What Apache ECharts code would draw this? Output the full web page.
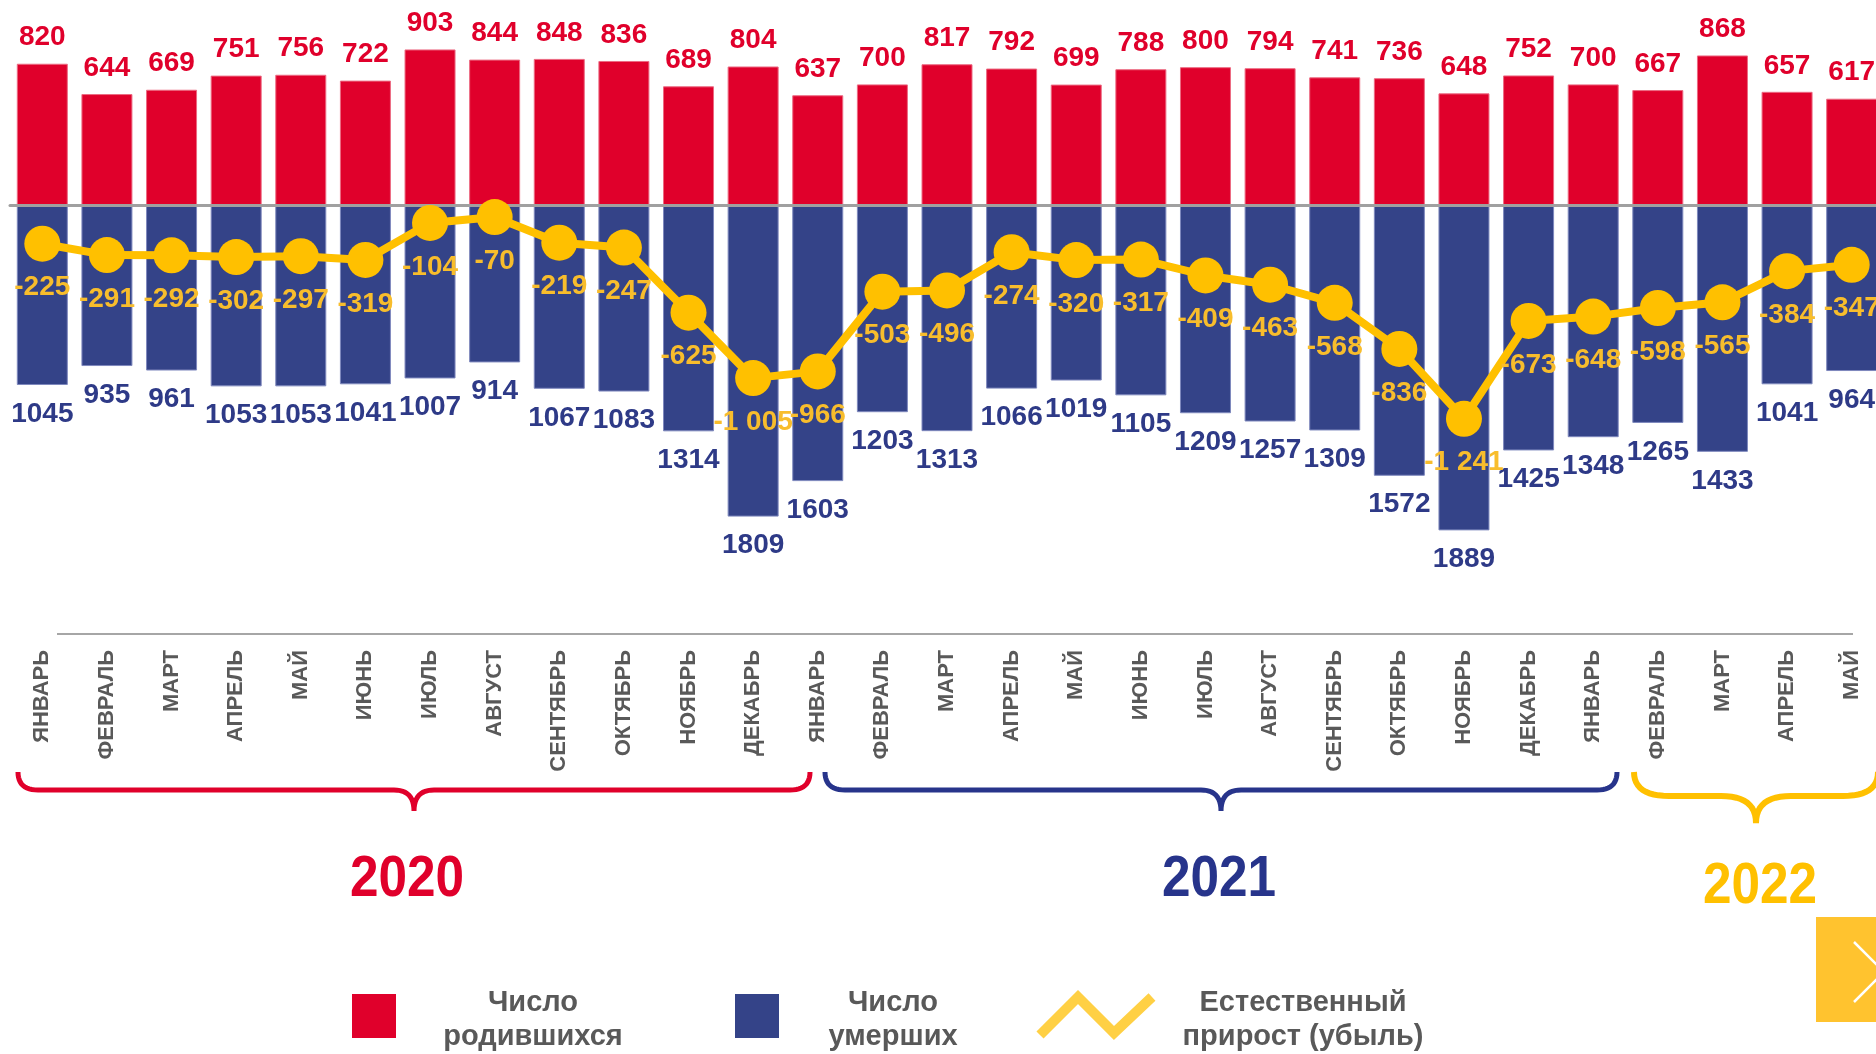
<!DOCTYPE html>
<html>
<head>
<meta charset="utf-8">
<script src="https://cdn.jsdelivr.net/npm/echarts@6/dist/echarts.min.js"></script>
<style>
    html, body { margin: 0; padding: 0; background: #fff; }
    #chart { width: 1876px; height: 1054px; }
</style>
</head>
<body>
<div id="chart"></div>
<script>
    var monthNames = ['ЯНВАРЬ', 'ФЕВРАЛЬ', 'МАРТ', 'АПРЕЛЬ', 'МАЙ', 'ИЮНЬ', 'ИЮЛЬ', 'АВГУСТ', 'СЕНТЯБРЬ', 'ОКТЯБРЬ', 'НОЯБРЬ', 'ДЕКАБРЬ']
    // 2020 - 2021 полностью, 2022 январь-май
    var categories = monthNames.concat(monthNames).concat(monthNames.slice(0, 5))

    var births = [820, 644, 669, 751, 756, 722, 903, 844, 848, 836, 689, 804,
        637, 700, 817, 792, 699, 788, 800, 794, 741, 736, 648, 752,
        700, 667, 868, 657, 617]
    var deaths = [1045, 935, 961, 1053, 1053, 1041, 1007, 914, 1067, 1083, 1314, 1809,
        1603, 1203, 1313, 1066, 1019, 1105, 1209, 1257, 1309, 1572, 1889, 1425,
        1348, 1265, 1433, 1041, 964]
    var naturalGrowth = [-225, -291, -292, -302, -297, -319, -104, -70, -219, -247, -625, -1005,
        -966, -503, -496, -274, -320, -317, -409, -463, -568, -836, -1241, -673,
        -648, -598, -565, -384, -347]

    var years = ['2020', '2021', '2022']

    var RED = '#E0002B'
    var BLUE = '#344388'
    var YELLOW = '#FFC000'
    var GREY_TEXT = '#595959'
    var FONT = '"Liberation Sans", Arial, sans-serif'

    function withSpaces(v) {
        return String(v).replace(/\B(?=(\d{3})+(?!\d))/g, ' ')
    }

    // фигурная скобка из ломаной
    function bracePoints(x0, x1, yTop, yMid, yTip, r) {
        var pts = []
        var xc = (x0 + x1) / 2
        function quad(p0, c, p1) {
            for (var i = 0; i <= 12; i++) {
                var t = i / 12
                var a = (1 - t) * (1 - t), b = 2 * (1 - t) * t, d = t * t
                pts.push([a * p0[0] + b * c[0] + d * p1[0], a * p0[1] + b * c[1] + d * p1[1]])
            }
        }
        quad([x0, yTop], [x0, yMid], [x0 + r, yMid])
        quad([xc - r, yMid], [xc, yMid], [xc, yTip])
        quad([xc, yTip], [xc, yMid], [xc + r, yMid])
        quad([x1 - r, yMid], [x1, yMid], [x1, yTop])
        return pts
    }

    var myChart = echarts.init(document.getElementById('chart'))

    var option = {
        animation: false,
        backgroundColor: '#fff',
        grid: {
            left: 10,
            width: 1874,
            top: 0,
            height: 549.5,
            outerBoundsMode: 'none'
        },
        xAxis: [{
            type: 'category',
            data: categories,
            axisLine: {
                show: true,
                onZero: true,
                lineStyle: { color: '#A0A0A0', width: 3 }
            },
            axisTick: { show: false },
            axisLabel: { show: false },
            z: 3
        }, {
            type: 'category',
            data: categories,
            position: 'bottom',
            offset: 84.5,
            axisLine: { show: false, onZero: false },
            axisTick: { show: false },
            axisLabel: {
                rotate: 90,
                margin: 16,
                interval: 0,
                color: GREY_TEXT,
                fontSize: 22,
                fontWeight: 'bold',
                fontFamily: FONT
            }
        }],
        yAxis: {
            type: 'value',
            min: -2000,
            max: 1190,
            show: false,
            splitLine: { show: false }
        },
        series: [{
            name: 'Число родившихся',
            type: 'bar',
            data: births,
            barWidth: 51,
            barGap: '-100%',
            itemStyle: {
                color: RED,
                borderColor: '#EC6A82',
                borderWidth: 1
            },
            label: {
                show: true,
                position: 'top',
                distance: 12,
                color: RED,
                fontSize: 28,
                fontWeight: 'bold',
                fontFamily: FONT
            }
        }, {
            name: 'Число умерших',
            type: 'bar',
            data: deaths.map(function(v) { return -v }),
            barWidth: 51,
            barGap: '-100%',
            itemStyle: {
                color: BLUE,
                borderColor: '#7E88BD',
                borderWidth: 1
            },
            label: {
                show: true,
                position: 'bottom',
                distance: 15,
                color: '#2E3A87',
                fontSize: 28,
                fontWeight: 'bold',
                fontFamily: FONT,
                formatter: function(p) { return String(-p.value) }
            }
        }, {
            name: 'Естественный прирост (убыль)',
            type: 'line',
            data: naturalGrowth,
            z: 5,
            symbol: 'circle',
            symbolSize: 36,
            lineStyle: { color: YELLOW, width: 8 },
            itemStyle: { color: YELLOW },
            label: {
                show: true,
                position: 'bottom',
                distance: 12,
                color: '#F8BD2C',
                fontSize: 28,
                fontWeight: 'bold',
                fontFamily: FONT,
                formatter: function(p) { return withSpaces(p.value) }
            }
        }],
        graphic: [
            // линия под подписями месяцев
            { type: 'line', shape: { x1: 57, y1: 634, x2: 1853, y2: 634 }, style: { stroke: '#A6A6A6', lineWidth: 2 } },
            // скобки годов
            { type: 'polyline', shape: { points: bracePoints(18, 810, 772, 790, 811, 20) }, style: { stroke: RED, lineWidth: 5, fill: null } },
            { type: 'polyline', shape: { points: bracePoints(825, 1617, 772, 790, 811, 20) }, style: { stroke: '#27348B', lineWidth: 5, fill: null } },
            { type: 'polyline', shape: { points: bracePoints(1634, 1878, 772, 796, 823, 35) }, style: { stroke: YELLOW, lineWidth: 6, fill: null } },
            { type: 'text', x: 407, y: 880, scaleX: 0.9, style: { text: years[0], fill: RED, font: 'bold 57px ' + FONT, textAlign: 'center', textVerticalAlign: 'middle' } },
            { type: 'text', x: 1219, y: 880, scaleX: 0.9, style: { text: years[1], fill: '#27348B', font: 'bold 57px ' + FONT, textAlign: 'center', textVerticalAlign: 'middle' } },
            { type: 'text', x: 1760, y: 887, scaleX: 0.9, style: { text: years[2], fill: YELLOW, font: 'bold 57px ' + FONT, textAlign: 'center', textVerticalAlign: 'middle' } },
            // легенда
            { type: 'rect', shape: { x: 352, y: 994, width: 44, height: 44 }, style: { fill: RED } },
            { type: 'text', x: 533, y: 1020, style: { text: 'Число\nродившихся', fill: GREY_TEXT, font: 'bold 29px ' + FONT, lineHeight: 34, textAlign: 'center', textVerticalAlign: 'middle' } },
            { type: 'rect', shape: { x: 735, y: 994, width: 44, height: 44 }, style: { fill: BLUE } },
            { type: 'text', x: 893, y: 1020, style: { text: 'Число\nумерших', fill: GREY_TEXT, font: 'bold 29px ' + FONT, lineHeight: 34, textAlign: 'center', textVerticalAlign: 'middle' } },
            { type: 'polyline', shape: { points: [[1040, 1035], [1078, 997], [1114, 1033], [1152, 997]] }, style: { stroke: '#FFD044', lineWidth: 10, fill: null } },
            { type: 'text', x: 1303, y: 1020, style: { text: 'Естественный\nприрост (убыль)', fill: GREY_TEXT, font: 'bold 29px ' + FONT, lineHeight: 34, textAlign: 'center', textVerticalAlign: 'middle' } },
            // кнопка справа внизу
            { type: 'rect', shape: { x: 1816, y: 917, width: 60, height: 105 }, style: { fill: '#FFC32F' } },
            { type: 'polyline', shape: { points: [[1854, 942], [1884, 972], [1854, 1002]] }, style: { stroke: '#fff', lineWidth: 2.5, fill: null } }
        ]
    }

    myChart.setOption(option)
</script>
</body>
</html>
